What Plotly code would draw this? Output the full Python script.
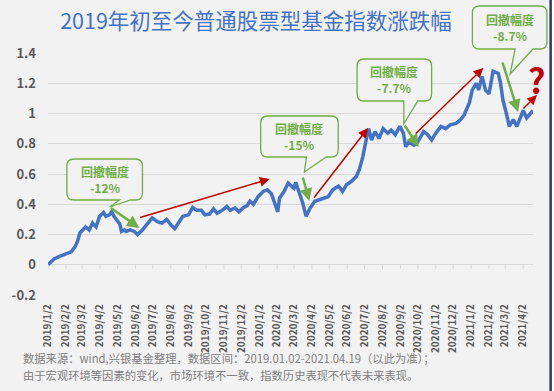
import plotly.graph_objects as go

# ---------------- data ----------------
dates = [
    "2019-01-02", "2019-01-05", "2019-01-13", "2019-01-22", "2019-01-31", "2019-02-11", "2019-02-18",
    "2019-02-22", "2019-02-26", "2019-03-04", "2019-03-08", "2019-03-14", "2019-03-20", "2019-03-26",
    "2019-04-01", "2019-04-08", "2019-04-12", "2019-04-18", "2019-04-22", "2019-04-26", "2019-05-06",
    "2019-05-09", "2019-05-14", "2019-05-17", "2019-05-24", "2019-05-31", "2019-06-06", "2019-06-14",
    "2019-06-21", "2019-07-01", "2019-07-10", "2019-07-18", "2019-07-26", "2019-08-02", "2019-08-09",
    "2019-08-16", "2019-08-23", "2019-09-02", "2019-09-09", "2019-09-16", "2019-09-24", "2019-09-30",
    "2019-10-08", "2019-10-15", "2019-10-21", "2019-10-30", "2019-11-07", "2019-11-13", "2019-11-21",
    "2019-11-28", "2019-12-06", "2019-12-12", "2019-12-17", "2019-12-23", "2019-12-31",
    "2020-01-09", "2020-01-16", "2020-01-23", "2020-02-03", "2020-02-06", "2020-02-14", "2020-02-21",
    "2020-03-02", "2020-03-05", "2020-03-11", "2020-03-17", "2020-03-23", "2020-03-30", "2020-04-07",
    "2020-04-20", "2020-04-30", "2020-05-08", "2020-05-18", "2020-05-25", "2020-06-01", "2020-06-09",
    "2020-06-18", "2020-06-23", "2020-06-29", "2020-07-06", "2020-07-09", "2020-07-14", "2020-07-20",
    "2020-07-27", "2020-08-03", "2020-08-11", "2020-08-17", "2020-08-24", "2020-09-01", "2020-09-07",
    "2020-09-11", "2020-09-17", "2020-09-25", "2020-09-30", "2020-10-12", "2020-10-19", "2020-10-26",
    "2020-11-02", "2020-11-11", "2020-11-19", "2020-11-27", "2020-12-07", "2020-12-15", "2020-12-21",
    "2020-12-30", "2021-01-04", "2021-01-11", "2021-01-15", "2021-01-21", "2021-01-27", "2021-02-02",
    "2021-02-09", "2021-02-18", "2021-02-22", "2021-02-26", "2021-03-04", "2021-03-09", "2021-03-16",
    "2021-03-22", "2021-03-29", "2021-04-02", "2021-04-08", "2021-04-13", "2021-04-19",
]
values = [
    0.00, 0.01, 0.04, 0.055, 0.066, 0.085, 0.12,
    0.155, 0.21, 0.23, 0.25, 0.23, 0.275, 0.25,
    0.32, 0.345, 0.32, 0.33, 0.35, 0.32, 0.27,
    0.22, 0.23, 0.22, 0.23, 0.22, 0.20, 0.23,
    0.265, 0.31, 0.285, 0.275, 0.30, 0.265, 0.24,
    0.285, 0.32, 0.33, 0.38, 0.36, 0.36, 0.33,
    0.335, 0.37, 0.34, 0.36, 0.385, 0.36, 0.375,
    0.35, 0.38, 0.39, 0.42, 0.40, 0.45,
    0.485, 0.495, 0.47, 0.35, 0.44, 0.485, 0.54,
    0.505, 0.545, 0.485, 0.41, 0.32, 0.375, 0.42,
    0.44, 0.45, 0.495, 0.52, 0.485, 0.53, 0.55,
    0.585, 0.63, 0.715, 0.85, 0.90, 0.825, 0.88,
    0.835, 0.90, 0.87, 0.89, 0.86, 0.915, 0.87,
    0.78, 0.815, 0.79, 0.80, 0.88, 0.86, 0.825,
    0.87, 0.915, 0.90, 0.925, 0.935, 0.96, 0.99,
    1.07, 1.155, 1.20, 1.155, 1.245, 1.155, 1.13,
    1.28, 1.265, 1.20, 1.09, 1.00, 0.915, 0.96,
    0.915, 0.98, 1.02, 0.97, 0.99, 1.02,
]
tick_dates = [
    "2019-01-02", "2019-02-02", "2019-03-02", "2019-04-02", "2019-05-02", "2019-06-02", "2019-07-02",
    "2019-08-02", "2019-09-02", "2019-10-02", "2019-11-02", "2019-12-02", "2020-01-02", "2020-02-02",
    "2020-03-02", "2020-04-02", "2020-05-02", "2020-06-02", "2020-07-02", "2020-08-02", "2020-09-02",
    "2020-10-02", "2020-11-02", "2020-12-02", "2021-01-02", "2021-02-02", "2021-03-02", "2021-04-02",
]
y_ticks = [-0.2, 0, 0.2, 0.4, 0.6, 0.8, 1.0, 1.2, 1.4]
y_tick_text = ["-0.2", "0", "0.2", "0.4", "0.6", "0.8", "1", "1.2", "1.4"]
drawdown_labels = ["-12%", "-15%", "-7.7%", "-8.7%"]

title_text = "2019年初至今普通股票型基金指数涨跌幅"
note_lines = [
    "数据来源：wind,兴银基金整理，数据区间：2019.01.02-2021.04.19（以此为准）；",
    "由于宏观环境等因素的变化，市场环境不一致，指数历史表现不代表未来表现。",
]

# ---------------- layout helpers ----------------
W, H = 554, 391
L, R, T, B = 45, 21, 53, 96
PW, PH = W - L - R, H - T - B
BOTTOM = H - B
FONT = "Noto Sans CJK SC"
BG = "#f2f2f2"
GREEN = "#70AD47"
RED = "#C00000"
BLUE = "#4472C4"


def P(x, y):
    return (x - L) / PW, (BOTTOM - y) / PH


def pt(x, y):
    px, py = P(x, y)
    return f"{px:.5f},{py:.5f}"


fig = go.Figure()
fig.add_trace(go.Scatter(x=dates, y=values, mode="lines",
                         line=dict(color=BLUE, width=3.5), hoverinfo="skip"))

shapes = []
# tick marks hanging below the zero line
for d in tick_dates:
    shapes.append(dict(type="line", xref="x", yref="y", x0=d, x1=d, y0=0, y1=-0.03,
                       line=dict(color="#d9d9d9", width=1)))

annotations = []

# callout boxes
boxes = [
    (64, 159, 140, 200, 117, 128, 107, 207),
    (259, 116, 337, 157, 305, 325, 303, 172),
    (356, 59, 431, 101, 403, 417, 403, 124),
    (472, 6, 547, 49, 515, 533, 510, 74),
]
r = 7
for (x0, y0, x1, y1, bl, br, tx, ty), lab in zip(boxes, drawdown_labels):
    path = (f"M {pt(x0 + r, y0)} L {pt(x1 - r, y0)} Q {pt(x1, y0)} {pt(x1, y0 + r)} "
            f"L {pt(x1, y1 - r)} Q {pt(x1, y1)} {pt(x1 - r, y1)} L {pt(br, y1)} L {pt(tx, ty)} "
            f"L {pt(bl, y1)} L {pt(x0 + r, y1)} Q {pt(x0, y1)} {pt(x0, y1 - r)} "
            f"L {pt(x0, y0 + r)} Q {pt(x0, y0)} {pt(x0 + r, y0)} Z")
    shapes.append(dict(type="path", xref="paper", yref="paper", path=path,
                       fillcolor=BG, line=dict(color=GREEN, width=1.3), layer="above"))
    cx, cy = P((x0 + x1) / 2, (y0 + y1) / 2)
    annotations.append(dict(xref="paper", yref="paper", x=cx, y=cy, showarrow=False,
                            xanchor="center", yanchor="middle",
                            text=f"回撤幅度<br>{lab}", align="center",
                            font=dict(family=FONT, size=12, color=GREEN, weight="bold")))

# arrows: (tail_x, tail_y, head_x, head_y, color, width, size)
arrows = [
    (107, 207, 137, 228, GREEN, 2.5, 1.0),
    (137, 218, 268, 179, RED, 1.5, 1.3),
    (301, 176, 308, 201, GREEN, 2.5, 1.0),
    (312, 199, 367, 128, RED, 1.5, 1.3),
    (403, 124, 418, 147, GREEN, 2.5, 1.0),
    (414, 135, 483, 68, RED, 1.5, 1.3),
    (502, 61, 518, 112, GREEN, 2.5, 1.0),
    (522, 110, 537, 95, RED, 1.5, 1.3),
]
for tx0, ty0, hx, hy, col, wd, sz in arrows:
    ax_, ay_ = P(hx, hy)
    annotations.append(dict(xref="paper", yref="paper", x=ax_, y=ay_, ax=tx0 - hx, ay=ty0 - hy,
                            text="", showarrow=True, arrowhead=2, arrowsize=sz, arrowwidth=wd,
                            arrowcolor=col, standoff=0, startstandoff=0))

qx, qy = P(537, 79)
annotations.append(dict(xref="paper", yref="paper", x=qx, y=qy, showarrow=False, text="?",
                        xanchor="center", yanchor="middle",
                        font=dict(family=FONT, size=34, color=RED, weight="bold")))

# footnotes
for i, line in enumerate(note_lines):
    nx, ny = P(18, 358 + 17 * i)
    annotations.append(dict(xref="paper", yref="paper", x=nx, y=ny, xanchor="left", yanchor="middle",
                            showarrow=False, text=line,
                            font=dict(family=FONT, size=11.3, color="#808080")))

# right frame edge
bx0, _ = P(549.5, 0)
bx1, _ = P(552, 0)
bx2, _ = P(W + 2, 0)
_, byb = P(0, H + 2)
_, byt = P(0, -2)
shapes.append(dict(type="rect", xref="paper", yref="paper", x0=bx1, x1=bx2, y0=byb, y1=byt,
                   fillcolor="#ffffff", line=dict(width=0), layer="above"))
shapes.append(dict(type="rect", xref="paper", yref="paper", x0=bx0, x1=bx1, y0=byb, y1=byt,
                   fillcolor="#2b3a67", line=dict(width=0), layer="above"))

fig.update_layout(
    width=W, height=H,
    margin=dict(l=L, r=R, t=T, b=B),
    paper_bgcolor=BG, plot_bgcolor=BG,
    showlegend=False,
    title=dict(text=title_text, xref="container", yref="container", x=256 / W, y=1 - 21 / H,
               xanchor="center", yanchor="middle",
               font=dict(family=FONT, size=21.5, color=BLUE)),
    xaxis=dict(type="date", range=["2019-01-02", "2021-04-19"], tickvals=tick_dates,
               tickformat="%Y/%-m/%-d", tickangle=-90, showgrid=False, zeroline=False,
               showline=False, ticks="", ticklabelstandoff=6,
               tickfont=dict(family=FONT, size=10, color="#595959", weight="bold")),
    yaxis=dict(range=[-0.2, 1.4], tickvals=y_ticks, ticktext=y_tick_text, showgrid=True,
               gridcolor="#d9d9d9", gridwidth=1, zeroline=False, showline=False, ticks="",
               ticklabelstandoff=11,
               tickfont=dict(family=FONT, size=13, color="#595959", weight="bold")),
    shapes=shapes,
    annotations=annotations,
)

fig.write_html("out.html", config={"displayModeBar": False},
               post_script="document.body.style.margin='0px';document.body.style.padding='0px';")
